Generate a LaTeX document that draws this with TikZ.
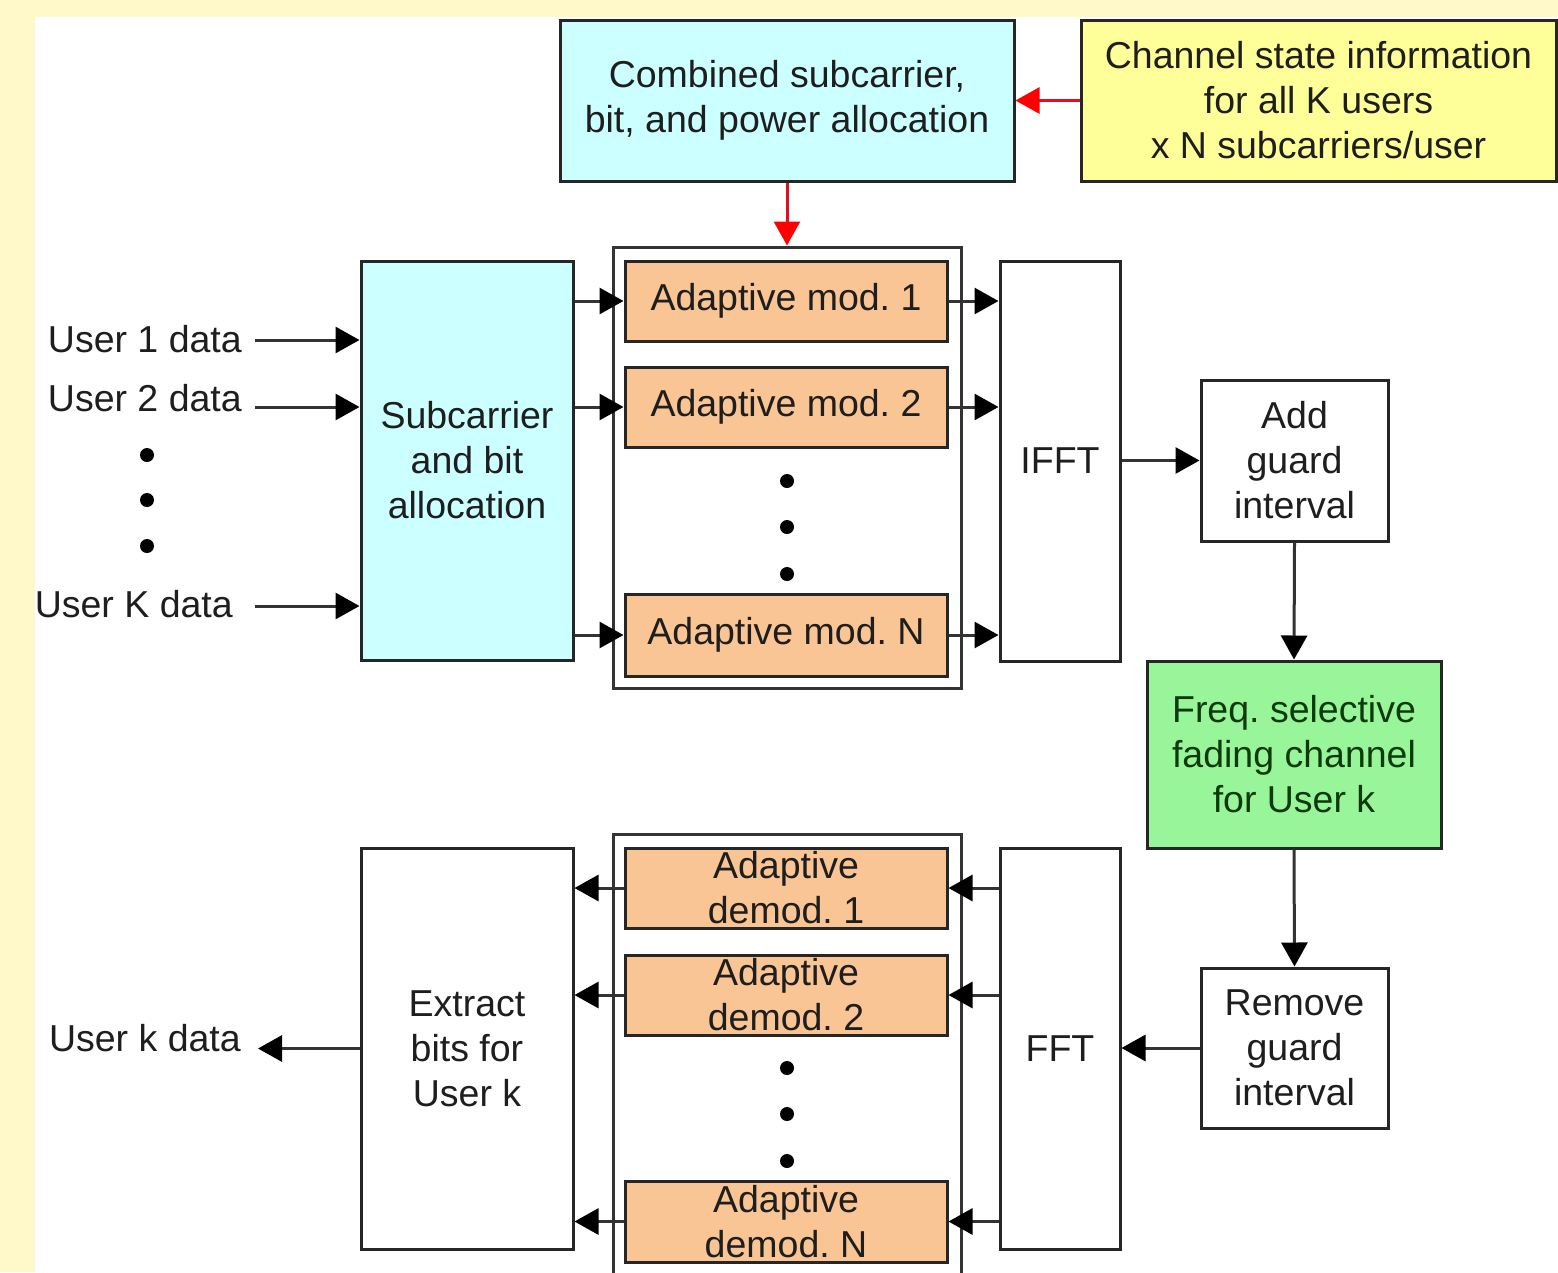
\documentclass[tikz,border=0pt]{standalone}
\usepackage{fontspec}
\setmainfont{Liberation Sans}
\usetikzlibrary{arrows.meta}
\definecolor{pagebg}{HTML}{FFF8C8}
\definecolor{cyanfill}{HTML}{CCFFFF}
\definecolor{csifill}{HTML}{FFFF99}
\definecolor{modfill}{HTML}{F9C594}
\definecolor{chanfill}{HTML}{99F599}
\definecolor{edge}{HTML}{262626}
\definecolor{wire}{HTML}{333333}
\definecolor{txt}{HTML}{1E1E1E}
\definecolor{chantxt}{HTML}{0E3A0E}
\definecolor{ctrl}{HTML}{E0101C}
\newcommand\dfont{\fontsize{37.5}{45}\selectfont\frenchspacing}
\tikzset{
  block/.style={draw=edge, line width=3pt, inner sep=0pt, align=center,
                font=\dfont, text=txt},
  group/.style={draw=wire, line width=3pt, inner sep=0pt},
  lbl/.style={inner sep=0pt, font=\dfont, text=txt},
  arr/.style={draw=wire, line width=3pt,
              -{Triangle[length=24pt,width=26pt,black]}},
  ctrlarr/.style={draw=ctrl, line width=3pt,
              -{Triangle[length=24pt,width=26pt,red]}},
  dot/.style={circle, fill=black, inner sep=0pt, minimum size=14pt},
}
\begin{document}
\begin{tikzpicture}[x=1pt, y=-1pt]
  % page and background
  \useasboundingbox (0,0) rectangle (1558,1272);
  \fill[pagebg] (0,0) rectangle (1558,1272);
  \fill[white] (35,17) rectangle (1558,1272);
  \clip (0,0) rectangle (1558,1272);

  % allocation control
  \node[block, fill=cyanfill, minimum width=454pt, minimum height=161pt]
    (comb) at (787,100.5) {Combined subcarrier,\\bit, and power allocation};
  \node[block, fill=csifill, minimum width=475pt, minimum height=161pt]
    (csi) at (1318.5,100.5) {Channel state information\\for all K users\\x N subcarriers/user};

  % transmitter
  \node[block, fill=cyanfill, minimum width=212pt, minimum height=399pt]
    (sub) at (467,460.5) {Subcarrier\\and bit\\allocation};
  \node[group, minimum width=348pt, minimum height=441pt] (modc) at (787,467.5) {};
  \node[block, fill=modfill, minimum width=322pt, minimum height=80pt]
    (m1) at (786,301) {Adaptive mod. 1};
  \node[block, fill=modfill, minimum width=322pt, minimum height=80pt]
    (m2) at (786,407) {Adaptive mod. 2};
  \node[block, fill=modfill, minimum width=322pt, minimum height=82pt]
    (mN) at (786,635) {Adaptive mod. N};
  \node[dot] (md1) at (787,481) {};
  \node[dot] (md2) at (787,527) {};
  \node[dot] (md3) at (787,574) {};
  \node[block, fill=white, minimum width=120pt, minimum height=400pt]
    (ifft) at (1060,461) {IFFT};
  \node[block, fill=white, minimum width=187pt, minimum height=161pt]
    (add) at (1294.5,460.5) {Add\\guard\\interval};

  % channel
  \node[block, fill=chanfill, text=chantxt, minimum width=294pt, minimum height=187pt]
    (chan) at (1294,754.5) {Freq. selective\\fading channel\\for User k};

  % receiver
  \node[block, fill=white, minimum width=187pt, minimum height=160pt]
    (rem) at (1294.5,1048) {Remove\\guard\\interval};
  \node[block, fill=white, minimum width=120pt, minimum height=401pt]
    (fft) at (1060,1048.5) {FFT};
  \draw[wire, line width=3pt] (613,1290) |- (961,834) -- (961,1290);
  \node[block, fill=modfill, minimum width=322pt, minimum height=80pt]
    (d1) at (786,888) {Adaptive\\demod. 1};
  \node[block, fill=modfill, minimum width=322pt, minimum height=80pt]
    (d2) at (786,995) {Adaptive\\demod. 2};
  \node[block, fill=modfill, minimum width=322pt, minimum height=81pt]
    (dN) at (786,1221.5) {Adaptive\\demod. N};
  \node[dot] (dd1) at (787,1068) {};
  \node[dot] (dd2) at (787,1114) {};
  \node[dot] (dd3) at (787,1161) {};
  \node[block, fill=white, minimum width=212pt, minimum height=401pt]
    (ext) at (467,1048.5) {Extract\\bits for\\User k};

  % user inputs and output
  \node[lbl, anchor=east] (u1) at (242,339) {User 1 data};
  \node[lbl, anchor=east] (u2) at (242,398) {User 2 data};
  \node[lbl, anchor=east] (uK) at (233,604) {User K data};
  \node[lbl, anchor=east] (uk) at (241,1038) {User k data};
  \node[dot] (ud1) at (147,455) {};
  \node[dot] (ud2) at (147,500) {};
  \node[dot] (ud3) at (147,546) {};
  \coordinate (s1) at (255,340);
  \coordinate (s2) at (255,407);
  \coordinate (sK) at (255,606);
  \coordinate (ukend) at (258,1048.5);

  % control connectors
  \draw[ctrlarr] (csi.west) -- (comb.east);
  \draw[ctrlarr] (comb.south) -- (modc.north);

  % transmitter connectors
  \draw[arr] (s1) -- (s1 -| sub.west);
  \draw[arr] (s2) -- (s2 -| sub.west);
  \draw[arr] (sK) -- (sK -| sub.west);
  \foreach \m in {m1,m2,mN} {
    \draw[arr] (sub.east |- \m.west) -- (\m.west);
    \draw[arr] (\m.east) -- (\m.east -| ifft.west);
  }
  \draw[arr] (ifft.east |- add.west) -- (add.west);
  \draw[arr] (add.south) -- (chan.north);
  \draw[arr] (chan.south) -- (rem.north);

  % receiver connectors
  \draw[arr] (rem.west) -- (rem.west -| fft.east);
  \foreach \d in {d1,d2,dN} {
    \draw[arr] (fft.west |- \d.east) -- (\d.east);
    \draw[arr] (\d.west) -- (\d.west -| ext.east);
  }
  \draw[arr] (ext.west) -- (ukend);
\end{tikzpicture}
\end{document}
